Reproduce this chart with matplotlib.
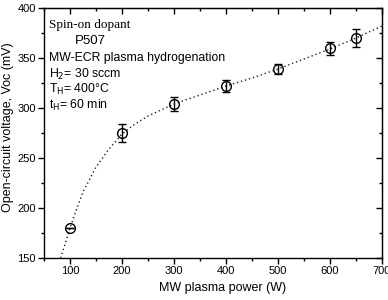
import matplotlib
matplotlib.use("Agg")
import matplotlib.pyplot as plt
from matplotlib.ticker import MultipleLocator

plt.rcParams['font.family'] = ['Liberation Sans', 'DejaVu Sans']

power = [100, 200, 300, 400, 500, 600, 650]
voc = [180, 275, 304, 322, 339, 360, 370]
voc_err = [0, 9, 7, 6, 5, 6.5, 9]

curve_x = [82, 90, 100, 110, 125, 150, 175, 200, 225, 250, 275, 300,
           350, 400, 450, 500, 550, 600, 650, 700]
curve_y = [150, 163, 180, 195, 216, 241, 259, 274, 284, 292, 298, 304,
           313, 322, 330, 339, 349, 359, 370, 382]

fig = plt.figure(figsize=(3.88, 3.0), dpi=100)
ax = fig.add_axes([44/388, 1-258/300, (382-44)/388, 250/300])

ax.plot(curve_x, curve_y, ls=(0, (1, 2)), color='#222222', lw=1.0)
ax.errorbar(power, voc, yerr=voc_err, fmt='o', mfc='none', mec='black',
            ms=7, mew=1.0, ecolor='black', elinewidth=1.0, capsize=3, capthick=1.0)

ax.set_xlim(50, 700)
ax.set_ylim(150, 400)
ax.xaxis.set_major_locator(MultipleLocator(100))
ax.xaxis.set_minor_locator(MultipleLocator(50))
ax.yaxis.set_major_locator(MultipleLocator(50))
ax.yaxis.set_minor_locator(MultipleLocator(25))
ax.tick_params(which='major', direction='out', length=4, width=1, labelsize=8, pad=2)
ax.tick_params(which='minor', direction='out', length=2.5, width=1)
for s in ax.spines.values():
    s.set_linewidth(1.0)

top = ax.secondary_xaxis('top')
top.xaxis.set_major_locator(MultipleLocator(100))
top.xaxis.set_minor_locator(MultipleLocator(50))
top.tick_params(which='major', direction='in', length=4, width=1, labeltop=False)
top.tick_params(which='minor', direction='in', length=2.5, width=1)
right = ax.secondary_yaxis('right')
right.yaxis.set_major_locator(MultipleLocator(50))
right.yaxis.set_minor_locator(MultipleLocator(25))
right.tick_params(which='major', direction='in', length=4, width=1, labelright=False)
right.tick_params(which='minor', direction='in', length=2.5, width=1)

ax.set_xlabel('MW plasma power (W)', fontsize=9)
ax.set_ylabel('Open-circuit voltage, Voc (mV)', fontsize=9)
ax.xaxis.set_label_coords(0.527, -0.098)
ax.yaxis.set_label_coords(-0.088, 0.525)

ax.text(0.015, 0.955, 'Spin-on dopant', transform=ax.transAxes, fontsize=9.5,
        family=['Liberation Serif', 'DejaVu Serif'], va='top', ha='left')
ax.text(0.09, 0.89, 'P507', transform=ax.transAxes, fontsize=9.5, va='top', ha='left')
ax.text(0.015, 0.825, 'MW-ECR plasma hydrogenation', transform=ax.transAxes, fontsize=8.8,
        va='top', ha='left')
ax.text(0.015, 0.765, r'H$_{2}$= 30 sccm', transform=ax.transAxes, fontsize=8.8,
        va='top', ha='left')
ax.text(0.015, 0.703, r'T$_{\mathrm{H}}$= 400°C', transform=ax.transAxes, fontsize=8.8,
        va='top', ha='left')
ax.text(0.015, 0.64, r't$_{\mathrm{H}}$= 60 min', transform=ax.transAxes, fontsize=8.8,
        va='top', ha='left')

fig.savefig('out.png', dpi=100)
